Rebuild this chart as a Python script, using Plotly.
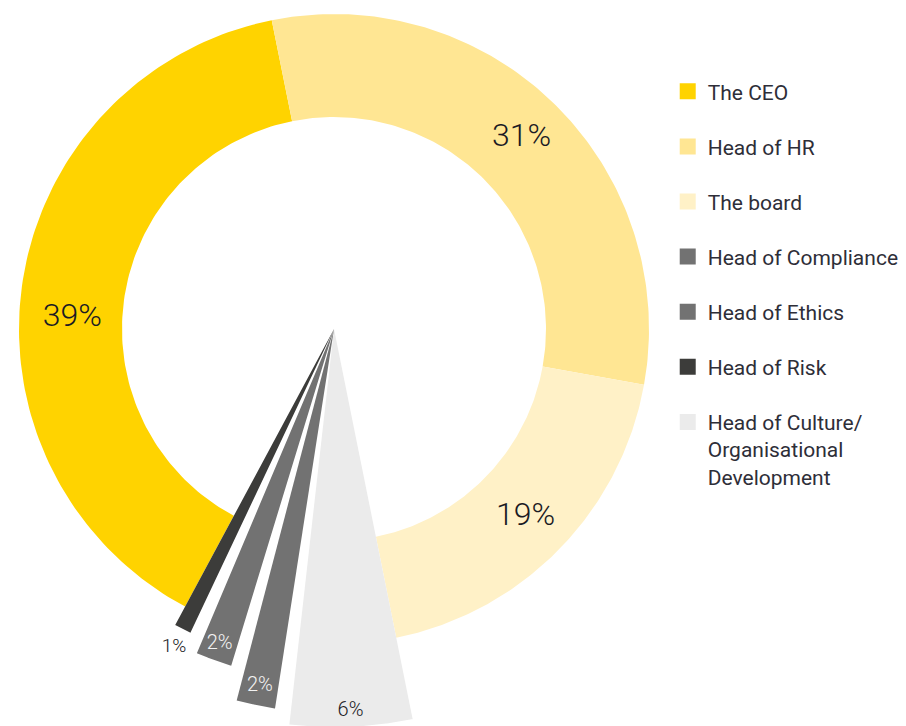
import numpy as np
import plotly.graph_objects as go

# ---------------- data ----------------
categories = ["The CEO", "Head of HR", "The board", "Head of Compliance",
              "Head of Ethics", "Head of Risk",
              "Head of Culture/ Organisational Development"]
values = [39, 31, 19, 2, 2, 1, 6]
legend_names = ["The CEO", "Head of HR", "The board", "Head of Compliance",
                "Head of Ethics", "Head of Risk",
                "Head of Culture/<br>Organisational<br>Development"]

# ---------------- style ----------------
colors = {
    "The CEO": "#FFD300",
    "Head of HR": "#FFE693",
    "The board": "#FFF1C7",
    "Head of Compliance": "#727272",
    "Head of Ethics": "#727272",
    "Head of Risk": "#3C3C3A",
    "Head of Culture/ Organisational Development": "#EBEBEB",
}
# clockwise drawing order around the ring
ring_sequence = ["The CEO", "Head of HR", "The board",
                 "Head of Culture/ Organisational Development",
                 "Head of Compliance", "Head of Ethics", "Head of Risk"]
# slices drawn as full wedges from the centre, with their radius (px units)
wedge_radius = {
    "Head of Culture/ Organisational Development": 398,
    "Head of Compliance": 384,
    "Head of Ethics": 352,
    "Head of Risk": 336,
}
label_radius = {
    "The CEO": 262, "Head of HR": 268, "The board": 268,
    "Head of Culture/ Organisational Development": 382,
    "Head of Compliance": 365, "Head of Ethics": 335, "Head of Risk": 356,
}
label_angle_shift = {"The CEO": -6.0}
label_style = {
    "The CEO": (32, "#1A1A24"), "Head of HR": (32, "#1A1A24"),
    "The board": (32, "#1A1A24"),
    "Head of Culture/ Organisational Development": (20, "#1A1A24"),
    "Head of Compliance": (20, "#F2F2F2"), "Head of Ethics": (20, "#F2F2F2"),
    "Head of Risk": (19, "#1A1A24"),
}
R_IN, R_OUT = 212, 315
START = -151.8   # degrees clockwise from 12 o'clock
GAP = 2.3        # angular gap between the wedges
FONT = "Roboto"

val = dict(zip(categories, values))
total = sum(values)

# slot angles
slots = {}
a = START
for name in ring_sequence:
    span = val[name] / total * 360.0
    slots[name] = (a, a + span)
    a += span

# reassign wedge angles with gaps
wedges = [n for n in ring_sequence if n in wedge_radius]
g0 = slots[wedges[0]][0]
g1 = slots[wedges[-1]][1]
avail = (g1 - g0) - GAP * (len(wedges) - 1)
wsum = sum(val[n] for n in wedges)
draw_ang = dict(slots)
a = g0
for n in wedges:
    w = val[n] / wsum * avail
    draw_ang[n] = (a, a + w)
    a += w + GAP


def pol(r, deg):
    t = np.deg2rad(deg)
    return r * np.sin(t), r * np.cos(t)


fig = go.Figure()

for name in ring_sequence:
    a0, a1 = draw_ang[name]
    th = np.linspace(a0, a1, 120)
    if name in wedge_radius:
        xo, yo = pol(wedge_radius[name], th)
        xs = np.concatenate([[0], xo, [0]])
        ys = np.concatenate([[0], yo, [0]])
    else:
        xo, yo = pol(R_OUT, th)
        xi, yi = pol(R_IN, th[::-1])
        xs = np.concatenate([xo, xi, xo[:1]])
        ys = np.concatenate([yo, yi, yo[:1]])
    fig.add_trace(go.Scatter(
        x=xs, y=ys, mode="lines", fill="toself",
        fillcolor=colors[name], line=dict(width=0, color=colors[name]),
        showlegend=False, hoverinfo="text",
        text=f"{name}: {val[name]}%", hoveron="fills"))

# percentage labels
for name in ring_sequence:
    a0, a1 = draw_ang[name]
    mid = (a0 + a1) / 2 + label_angle_shift.get(name, 0.0)
    x, y = pol(label_radius[name], mid)
    size, col = label_style[name]
    fig.add_trace(go.Scatter(
        x=[x], y=[y], mode="text", text=[f"{val[name]}%"],
        textfont=dict(family=FONT, size=size, color=col, weight=300),
        showlegend=False, hoverinfo="skip"))

# legend entries
for i, (name, lname) in enumerate(zip(categories, legend_names)):
    fig.add_trace(go.Scatter(
        x=[None], y=[None], mode="markers", name=lname,
        legendgroup=f"g{i}",
        marker=dict(symbol="square", size=16, color=colors[name]),
        showlegend=True))

fig.update_layout(
    width=906, height=726, autosize=False,
    margin=dict(l=0, r=0, t=0, b=0, pad=0),
    paper_bgcolor="white", plot_bgcolor="white",
    xaxis=dict(range=[-334, 572], visible=False, fixedrange=True),
    yaxis=dict(range=[-397, 329], visible=False, fixedrange=True),
    legend=dict(x=0.737, y=0.902, xanchor="left", yanchor="top",
                traceorder="grouped", tracegroupgap=24.8, valign="top",
                font=dict(family=FONT, size=21, color="#2E2E38"),
                bgcolor="rgba(0,0,0,0)"),
    font=dict(family=FONT),
)

fig.write_html("out.html",
               config={"displayModeBar": False},
               post_script="document.body.style.margin='0';")
